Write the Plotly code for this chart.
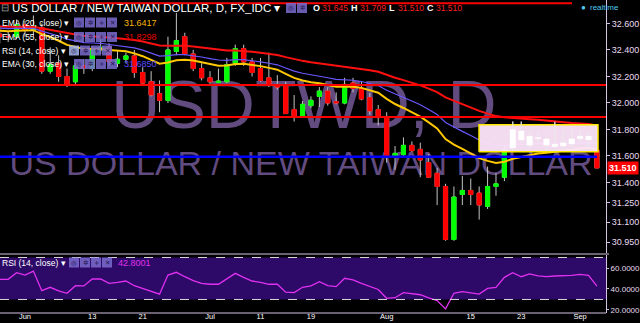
import plotly.graph_objects as go
import pandas as pd

# ---------------- data ----------------
dates = [d.strftime("%Y-%m-%d") for d in pd.bdate_range("2016-05-27", "2016-09-05")]

opens = [32.52, 32.50, 32.50, 32.59, 32.55, 32.57, 32.24, 32.30, 32.20, 32.16,
         32.28, 32.26, 32.40, 32.42, 32.30, 32.33, 32.355, 32.23, 32.16, 32.07,
         32.02, 32.39, 32.50, 32.37, 32.26, 32.19, 32.155, 32.16, 32.30, 32.41,
         32.31, 32.26, 32.19, 32.13, 32.13, 31.95, 31.90, 31.98, 32.05, 32.09,
         32.01, 32.00, 32.15, 32.11, 32.04, 31.95, 31.89, 31.60, 31.61, 31.68,
         31.65, 31.55, 31.47, 31.37, 30.97, 31.31, 31.34, 31.32, 31.22, 31.37,
         31.44, 31.66, 31.79, 31.68, 31.74, 31.73, 31.67, 31.675, 31.69, 31.73,
         31.75, 31.645]
highs = [32.58, 32.54, 32.63, 32.62, 32.66, 32.60, 32.42, 32.36, 32.26, 32.30,
         32.33, 32.43, 32.48, 32.45, 32.40, 32.38, 32.40, 32.27, 32.24, 32.17,
         32.50, 32.68, 32.53, 32.40, 32.30, 32.24, 32.26, 32.34, 32.44, 32.44,
         32.34, 32.34, 32.38, 32.21, 32.16, 32.06, 32.015, 32.05, 32.12, 32.12,
         32.08, 32.19, 32.19, 32.16, 32.075, 31.985, 31.93, 31.675, 31.74, 31.71,
         31.70, 31.615, 31.51, 31.39, 31.37, 31.45, 31.43, 31.37, 31.52, 31.47,
         31.68, 31.86, 31.86, 31.80, 31.78, 31.76, 31.86, 31.79, 31.81, 31.80,
         31.78, 31.709]
lows = [32.45, 32.46, 32.48, 32.50, 32.50, 32.22, 32.22, 32.16, 32.12, 32.13,
        32.22, 32.24, 32.37, 32.28, 32.27, 32.30, 32.19, 32.14, 32.05, 31.93,
        32.00, 32.36, 32.36, 32.24, 32.17, 32.14, 32.15, 32.15, 32.28, 32.28,
        32.20, 32.16, 32.12, 32.10, 31.92, 31.86, 31.89, 31.96, 31.97, 31.98,
        31.99, 31.99, 32.08, 32.02, 31.91, 31.83, 31.55, 31.495, 31.60, 31.63,
        31.44, 31.44, 31.23, 30.96, 30.96, 31.23, 31.23, 31.12, 31.20, 31.30,
        31.41, 31.64, 31.70, 31.66, 31.70, 31.64, 31.66, 31.66, 31.67, 31.70,
        31.66, 31.51]
closes = [32.50, 32.50, 32.59, 32.55, 32.58, 32.24, 32.29, 32.20, 32.14, 32.28,
          32.265, 32.41, 32.42, 32.31, 32.33, 32.355, 32.23, 32.15, 32.06, 32.02,
          32.40, 32.47, 32.37, 32.26, 32.19, 32.16, 32.165, 32.29, 32.41, 32.31,
          32.23, 32.17, 32.14, 32.12, 31.92, 31.90, 31.99, 32.02, 32.09, 32.00,
          32.00, 32.14, 32.11, 32.03, 31.94, 31.89, 31.59, 31.62, 31.68, 31.64,
          31.57, 31.44, 31.37, 30.97, 31.29, 31.34, 31.31, 31.23, 31.37, 31.39,
          31.65, 31.80, 31.72, 31.75, 31.73, 31.68, 31.69, 31.70, 31.73, 31.75,
          31.72, 31.51]
rsi_values = [49.2, 49.2, 55.5, 53.3, 57.1, 38.4, 41.6, 38.1, 35.9, 43.1,
              42.9, 49.5, 49.5, 45.4, 46.4, 47.6, 43.1, 40.6, 37.4, 35.0,
              53.3, 55.9, 51.7, 47.9, 45.4, 44.5, 44.5, 49.5, 54.9, 51.1,
              47.6, 46.4, 44.5, 44.5, 36.9, 36.5, 41.6, 42.9, 47.0, 43.2,
              42.2, 50.2, 48.6, 45.4, 42.2, 39.5, 31.1, 31.7, 36.5, 35.5,
              34.5, 31.5, 29.0, 21.0, 35.9, 37.5, 36.7, 35.2, 40.6, 41.6,
              51.1, 55.6, 51.7, 54.3, 52.4, 51.8, 52.4, 52.5, 53.0, 54.0,
              53.0, 42.8]

# EMA starting values read at the left edge of the chart
ema_seeds = {20: 32.55, 30: 32.57, 55: 32.58}
ema_legend_values = {20: "31.6417", 55: "31.8298", 30: "31.6850"}
rsi_legend_value = "42.8001"

tick_dates = ["2016-06-01", "2016-06-13", "2016-06-21", "2016-07-01", "2016-07-11",
              "2016-07-19", "2016-08-01", "2016-08-15", "2016-08-23", "2016-09-01"]
tick_labels = ["Jun", "13", "21", "Jul", "11", "19", "Aug", "15", "23", "Sep"]
price_ticks = [32.6, 32.4, 32.2, 32.0, 31.8, 31.6, 31.4, 31.25, 31.1, 30.95]
rsi_ticks = [60, 40, 20]

# drawings on the chart
red_levels = [32.753, 32.135, 31.895]
blue_level = 31.595
box_low, box_high = 31.632, 31.835

# ---------------- styling ----------------
W, H = 640, 323
AXIS_PX = 606
FONT = "Liberation Sans, Arial, sans-serif"
BG = "#000000"
AXIS = "#d4c4e4"
GREEN = "#00ff00"
RED = "#ff0000"
WICK = "#c4c4c4"

n = len(dates)
idx = list(range(n))
xr = [0.03, 72.08]
yr = [30.868, 32.777]
rsi_range = [17.1, 72.4]
main_dom = [1 - 253 / H, 1]
rsi_dom = [1 - 313 / H, 1 - 255 / H]


def px_x(px):
    return xr[0] + px / AXIS_PX * (xr[1] - xr[0])


def px_price(py):
    return yr[1] - py / 253 * (yr[1] - yr[0])


def ema(values, span, seed):
    a = 2.0 / (span + 1)
    e = seed
    out = []
    for v in values:
        e = e + a * (v - e)
        out.append(e)
    return out


fig = go.Figure()

# watermark (base subplot, drawn beneath everything)
wm_color = "rgba(130,100,170,0.75)"
fig.add_trace(go.Scatter(x=[px_x(304)], y=[px_price(111)], mode="text", text=["USDTWD, D"],
                         textfont=dict(size=68, color=wm_color, family=FONT),
                         xaxis="x", yaxis="y", hoverinfo="skip", showlegend=False))
fig.add_trace(go.Scatter(x=[px_x(301)], y=[px_price(166)], mode="text",
                         text=["US DOLLAR / NEW TAIWAN DOLLAR"],
                         textfont=dict(size=34, color=wm_color, family=FONT),
                         xaxis="x", yaxis="y", hoverinfo="skip", showlegend=False))

# candles: grey wicks, then coloured bodies
fig.add_trace(go.Candlestick(x=idx, open=opens, high=highs, low=lows, close=closes,
                             increasing=dict(line=dict(color=WICK, width=1), fillcolor=WICK),
                             decreasing=dict(line=dict(color=WICK, width=1), fillcolor=WICK),
                             xaxis="x", yaxis="y3", hoverinfo="skip", showlegend=False))
body_hi = [max(o, c) for o, c in zip(opens, closes)]
body_lo = [min(o, c) for o, c in zip(opens, closes)]
fig.add_trace(go.Candlestick(x=idx, open=opens, high=body_hi, low=body_lo, close=closes,
                             increasing=dict(line=dict(color=GREEN, width=1), fillcolor=GREEN),
                             decreasing=dict(line=dict(color=RED, width=1), fillcolor=RED),
                             xaxis="x", yaxis="y3", hoverinfo="skip", showlegend=False))

# EMAs
ema_styles = {55: ("#ff1010", 2), 30: ("#6a58ff", 1.2), 20: ("#ffc800", 2)}
for span in (55, 30, 20):
    col, wd = ema_styles[span]
    fig.add_trace(go.Scatter(x=idx, y=ema(closes, span, ema_seeds[span]), mode="lines",
                             line=dict(color=col, width=wd), xaxis="x", yaxis="y3",
                             hoverinfo="skip", showlegend=False))

# rectangle drawing
bx0, bx1 = px_x(479), px_x(598)
fig.add_trace(go.Scatter(x=[bx0, bx1, bx1, bx0, bx0], y=[box_low, box_low, box_high, box_high, box_low],
                         mode="lines", fill="toself", fillcolor="rgba(252,228,249,0.96)",
                         line=dict(color="#ffe800", width=1.5), xaxis="x", yaxis="y3",
                         hoverinfo="skip", showlegend=False))

# candles seen through the rectangle
inside = [k for k in idx if bx0 < k - 0.4 and k + 0.4 < bx1 and body_lo[k] >= box_low - 0.02]
wx, wy, bxs, bys = [], [], [], []
for k in inside:
    wx += [k, k, None]
    wy += [lows[k], highs[k], None]
    bxs += [k, k, None]
    hi = body_hi[k] if body_hi[k] - body_lo[k] > 0.008 else body_lo[k] + 0.008
    bys += [body_lo[k], hi, None]
fig.add_trace(go.Scatter(x=wx, y=wy, mode="lines", line=dict(color="#e8e8e8", width=1),
                         xaxis="x", yaxis="y3", hoverinfo="skip", showlegend=False))
fig.add_trace(go.Scatter(x=bxs, y=bys, mode="lines", line=dict(color="#ffffff", width=6),
                         xaxis="x", yaxis="y3", hoverinfo="skip", showlegend=False))

# RSI
fig.add_trace(go.Scatter(x=idx, y=rsi_values, mode="lines", line=dict(color="#e030f0", width=1.3),
                         xaxis="x", yaxis="y2", hoverinfo="skip", showlegend=False))

shapes = []
# RSI band
shapes.append(dict(type="rect", xref="x domain", yref="y2", x0=0, x1=1, y0=30, y1=70,
                   fillcolor="#2e0a68", line=dict(width=0), layer="below"))
for lv in (70, 30):
    shapes.append(dict(type="line", xref="x domain", yref="y2", x0=0, x1=1, y0=lv, y1=lv,
                       line=dict(color="#d8d8d8", width=1, dash="dash")))
# horizontal drawings
for i, lv in enumerate(red_levels):
    x_end = px_x(572) if i == 0 else xr[1]
    shapes.append(dict(type="line", xref="x", yref="y", x0=xr[0], x1=x_end, y0=lv, y1=lv,
                       line=dict(color=RED, width=2)))
shapes.append(dict(type="line", xref="x", yref="y", x0=xr[0], x1=px_x(597), y0=blue_level,
                   y1=blue_level, line=dict(color="#0000ff", width=2.5)))
# pane separator and time-axis baseline
shapes.append(dict(type="line", xref="paper", yref="paper", x0=0, x1=609 / W, y0=1 - 254 / H,
                   y1=1 - 254 / H, line=dict(color=AXIS, width=1.2)))
shapes.append(dict(type="line", xref="paper", yref="paper", x0=0, x1=AXIS_PX / W, y0=1 - 313 / H,
                   y1=1 - 313 / H, line=dict(color=AXIS, width=1)))

annotations = []


def txt(px, py, s, color="#ffffff", size=8.5, xanchor="left"):
    annotations.append(dict(x=px / W, y=1 - py / H, xref="paper", yref="paper", text=s,
                            showarrow=False, xanchor=xanchor, yanchor="middle", borderpad=0,
                            font=dict(size=size, color=color, family=FONT)))


def buttons(px, py, count=4, first_fill="#7a6cd0"):
    glyphs = ["◎", "✲", "+", "✕"][:count]
    for j, g in enumerate(glyphs):
        x0 = px + j * 11
        fill = first_fill if j == 0 else "#7a6cd0"
        shapes.append(dict(type="rect", xref="paper", yref="paper", x0=x0 / W, x1=(x0 + 10) / W,
                           y0=1 - (py + 5) / H, y1=1 - (py - 5) / H, fillcolor=fill,
                           opacity=0.85, line=dict(width=0), layer="above"))
        annotations.append(dict(x=(x0 + 5) / W, y=1 - py / H, xref="paper", yref="paper", text=g,
                                showarrow=False, xanchor="center", yanchor="middle", borderpad=0,
                                font=dict(size=6.5, color="#1e1248", family="DejaVu Sans")))


# title row
txt(0, 8, "⊟", color="#9a9a9a", size=10)
txt(11, 8, "US DOLLAR / NEW TAIWAN DOLLAR, D, FX_IDC ▾", size=11.5)
buttons(286, 8, count=2)
ohlc = [("O", opens[-1], 312), ("H", highs[-1], 350), ("L", lows[-1], 388), ("C", closes[-1], 426)]
for lab, val, px in ohlc:
    txt(px, 8, "<b>%s</b>" % lab, size=9)
    txt(px + 9, 8, "%.3f" % val, color="#ff2020", size=8.5)
txt(580, 8, "●", color="#4fc8ee", size=8)
txt(589, 8, "realtime", color="#4fc8ee", size=8)

# indicator legend rows
rows = [("EMA (20, close) ▾", 22.5, 74, ema_legend_values[20], "#f7b500"),
        ("EMA (55, close) ▾", 37, 74, ema_legend_values[55], "#e80000"),
        ("RSI (14, close) ▾", 50.5, 69, None, None),
        ("EMA (30, close) ▾", 64, 74, ema_legend_values[30], "#5a4cff")]
for label, py, bx, val, col in rows:
    txt(1, py, label, size=8.5)
    buttons(bx, py, first_fill="#a8b8f0" if val is None else "#7a6cd0")
    if val:
        txt(123, py, val, color=col, size=9)
txt(1, 262.5, "RSI (14, close) ▾", size=8.5)
buttons(69, 262.5)
txt(117, 262.5, rsi_legend_value, color="#e030f0", size=9)

# last price label
annotations.append(dict(x=AXIS_PX / W + 0.001, y=closes[-1], xref="paper", yref="y",
                        text="<b>%.3f</b>" % closes[-1], showarrow=False, xanchor="left",
                        yanchor="middle", bgcolor=RED, borderpad=1,
                        font=dict(size=9, color="#ffffff", family=FONT)))

fig.update_layout(
    width=W, height=H, autosize=False,
    margin=dict(l=0, r=0, t=0, b=0, autoexpand=False),
    paper_bgcolor=BG, plot_bgcolor=BG,
    showlegend=False, hovermode=False,
    xaxis=dict(domain=[0, AXIS_PX / W], range=xr, anchor="free", position=1 - 310 / H,
               showgrid=False, zeroline=False,
               tickvals=[dates.index(d) for d in tick_dates], ticktext=tick_labels,
               ticks="", showline=False,
               tickfont=dict(size=7.5, color="#ffffff", family=FONT),
               rangeslider=dict(visible=False), fixedrange=True, automargin=False),
    yaxis=dict(domain=main_dom, range=yr, side="right", anchor="x", showgrid=False,
               zeroline=False, tickvals=price_ticks, ticktext=["%.3f" % v for v in price_ticks],
               ticks="outside", ticklen=3, tickcolor=AXIS, showline=True, linecolor=AXIS,
               linewidth=1, tickfont=dict(size=9, color="#eadcf2", family=FONT), fixedrange=True,
               automargin=False),
    yaxis3=dict(overlaying="y", range=yr, anchor="x", visible=False, fixedrange=True,
                automargin=False),
    yaxis2=dict(domain=rsi_dom, range=rsi_range, side="right", anchor="x", showgrid=False,
                zeroline=False, tickvals=rsi_ticks, ticktext=["%.4f" % v for v in rsi_ticks],
                ticks="outside", ticklen=2, tickcolor=AXIS, showline=True, linecolor=AXIS,
                linewidth=1, tickfont=dict(size=8, color="#eadcf2", family=FONT), fixedrange=True,
                automargin=False),
    shapes=shapes,
    annotations=annotations,
)

fig.write_html("out.html")
